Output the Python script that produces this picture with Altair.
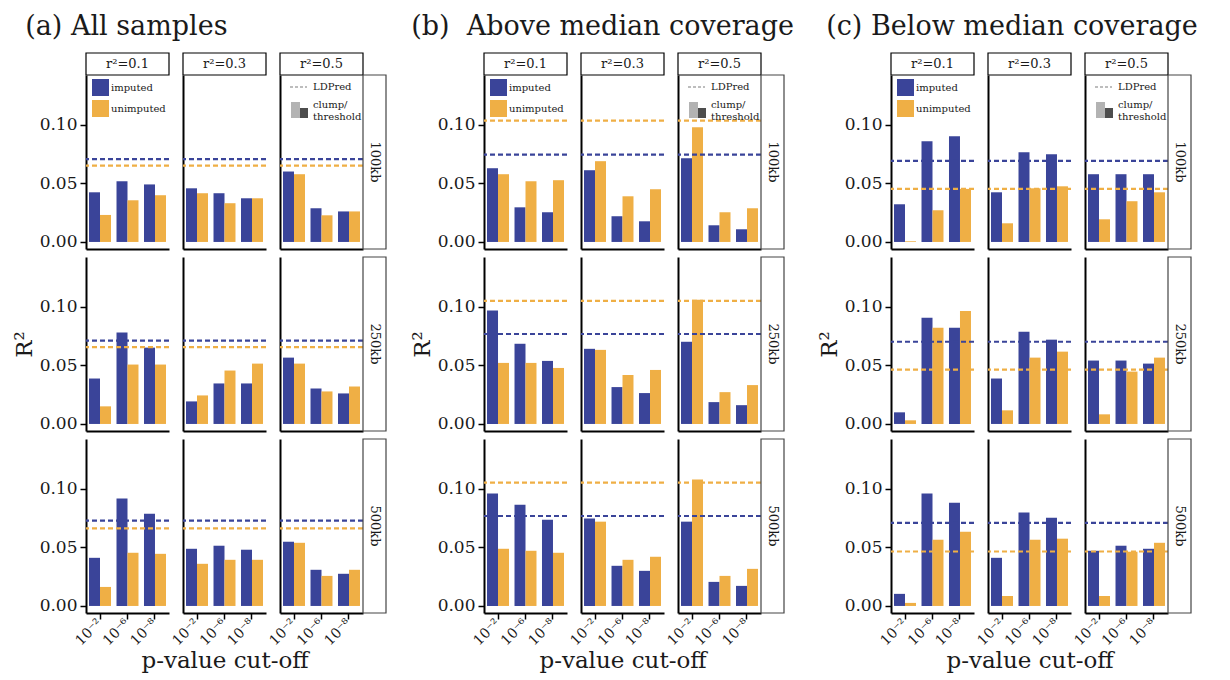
import altair as alt
import pandas as pd

# ---------------- data ----------------
windows = ["100kb", "250kb", "500kb"]
r2_labels = ["r²=0.1", "r²=0.3", "r²=0.5"]
p_labels = ["10⁻²", "10⁻⁶", "10⁻⁸"]
types = ["imputed", "unimputed"]
panel_titles = ["(a) All samples", "(b)\u00a0 Above median coverage", "(c) Below median coverage"]

# each list: r2=0.1 (p 1e-2, 1e-6, 1e-8), r2=0.3 (...), r2=0.5 (...)
a_imp_100 = [0.0423, 0.0517, 0.0490, 0.0457, 0.0415, 0.0372, 0.0600, 0.0287, 0.0260]
a_uni_100 = [0.0230, 0.0355, 0.0398, 0.0415, 0.0330, 0.0372, 0.0577, 0.0227, 0.0260]
a_imp_250 = [0.0387, 0.0780, 0.0650, 0.0192, 0.0345, 0.0345, 0.0565, 0.0302, 0.0260]
a_uni_250 = [0.0150, 0.0506, 0.0506, 0.0243, 0.0455, 0.0514, 0.0514, 0.0277, 0.0319]
a_imp_500 = [0.0410, 0.0915, 0.0786, 0.0487, 0.0513, 0.0479, 0.0547, 0.0308, 0.0274]
a_uni_500 = [0.0162, 0.0453, 0.0444, 0.0359, 0.0393, 0.0393, 0.0538, 0.0256, 0.0308]

b_imp_100 = [0.0628, 0.0295, 0.0253, 0.0611, 0.0219, 0.0176, 0.0713, 0.0142, 0.0108]
b_uni_100 = [0.0577, 0.0517, 0.0526, 0.0688, 0.0389, 0.0449, 0.0977, 0.0253, 0.0287]
b_imp_250 = [0.0966, 0.0683, 0.0537, 0.0640, 0.0314, 0.0263, 0.0700, 0.0186, 0.0160]
b_uni_250 = [0.0520, 0.0520, 0.0477, 0.0631, 0.0417, 0.0460, 0.1057, 0.0271, 0.0331]
b_imp_500 = [0.0957, 0.0863, 0.0735, 0.0744, 0.0342, 0.0299, 0.0718, 0.0205, 0.0171]
b_uni_500 = [0.0487, 0.0470, 0.0453, 0.0718, 0.0393, 0.0419, 0.1077, 0.0256, 0.0316]

c_imp_100 = [0.0321, 0.0858, 0.0900, 0.0423, 0.0764, 0.0747, 0.0577, 0.0577, 0.0577]
c_uni_100 = [0.0006, 0.0270, 0.0452, 0.0159, 0.0457, 0.0474, 0.0193, 0.0347, 0.0423]
c_imp_250 = [0.0099, 0.0904, 0.0819, 0.0387, 0.0785, 0.0718, 0.0540, 0.0540, 0.0514]
c_uni_250 = [0.0031, 0.0819, 0.0963, 0.0116, 0.0565, 0.0616, 0.0082, 0.0446, 0.0565]
c_imp_500 = [0.0103, 0.0957, 0.0880, 0.0410, 0.0795, 0.0752, 0.0470, 0.0513, 0.0487]
c_uni_500 = [0.0026, 0.0564, 0.0632, 0.0085, 0.0564, 0.0573, 0.0085, 0.0462, 0.0538]

# LDPred R2 per window (100kb, 250kb, 500kb)
a_ldpred_imp = [0.0705, 0.0709, 0.0726]
a_ldpred_uni = [0.0650, 0.0655, 0.0660]
b_ldpred_imp = [0.0744, 0.0766, 0.0766]
b_ldpred_uni = [0.1034, 0.1049, 0.1051]
c_ldpred_imp = [0.0690, 0.0700, 0.0707]
c_ldpred_uni = [0.0452, 0.0463, 0.0464]

legend_bar_labels = ["imputed", "unimputed"]
legend_method_labels = ["LDPred", "clump/", "threshold"]

panels = {
    0: ([a_imp_100, a_imp_250, a_imp_500], [a_uni_100, a_uni_250, a_uni_500], a_ldpred_imp, a_ldpred_uni),
    1: ([b_imp_100, b_imp_250, b_imp_500], [b_uni_100, b_uni_250, b_uni_500], b_ldpred_imp, b_ldpred_uni),
    2: ([c_imp_100, c_imp_250, c_imp_500], [c_uni_100, c_uni_250, c_uni_500], c_ldpred_imp, c_ldpred_uni),
}

bar_rows, ld_rows = [], []
for pi, (imps, unis, ldi, ldu) in panels.items():
    for wi, w in enumerate(windows):
        for ci, r2 in enumerate(r2_labels):
            for k, p in enumerate(p_labels):
                bar_rows.append(dict(panel=pi, window=w, r2=r2, p=p, type="imputed", value=imps[wi][ci * 3 + k]))
                bar_rows.append(dict(panel=pi, window=w, r2=r2, p=p, type="unimputed", value=unis[wi][ci * 3 + k]))
        ld_rows.append(dict(panel=pi, window=w, type="imputed", value=ldi[wi]))
        ld_rows.append(dict(panel=pi, window=w, type="unimputed", value=ldu[wi]))
bars_df = pd.DataFrame(bar_rows)
ld_df = pd.DataFrame(ld_rows)

# ---------------- style ----------------
W, H = 83, 174
HEAD_H = 22
STRIP_W = 23
YDOM = [-0.006, 0.1422]
BLUE, ORANGE = "#3a4499", "#efaf45"
FONT = "DejaVu Serif"
INK = "#1a1a1a"

color_scale = alt.Scale(domain=types, range=[BLUE, ORANGE])
y_scale = alt.Scale(domain=YDOM, nice=False, zero=False)


def y_axis(ri, ci):
    if ci == 0:
        return alt.Axis(values=[0, 0.05, 0.1], format=".2f", labelFontSize=17, tickSize=6,
                        tickWidth=1.5, tickColor="black", labelPadding=3, domainColor="black",
                        domainWidth=2, grid=False, title="R²" if ri == 1 else None,
                        titleFontSize=23, titlePadding=3)
    return alt.Axis(labels=False, ticks=False, grid=False, domainColor="black", domainWidth=2, title=None)


def x_axis(ri, ci):
    if ri < 2:
        return alt.Axis(labels=False, ticks=False, grid=False, domainColor="black", domainWidth=2, title=None)
    return alt.Axis(labelAngle=-45, labelAlign="right", labelBaseline="middle", labelFontSize=14,
                    labelPadding=2, tickSize=6, tickWidth=1.5, tickColor="black", domainColor="black",
                    domainWidth=2, grid=False, title="p-value cut-off" if ci == 1 else None,
                    titleFontSize=23, titlePadding=2)


def cell(pi, ri, ci):
    d = bars_df[(bars_df.panel == pi) & (bars_df.window == windows[ri]) & (bars_df.r2 == r2_labels[ci])]
    ld = ld_df[(ld_df.panel == pi) & (ld_df.window == windows[ri])]
    ya = y_axis(ri, ci)
    bars = alt.Chart(d).mark_bar().encode(
        x=alt.X("p:N", sort=p_labels, scale=alt.Scale(paddingInner=0.2, paddingOuter=0.11), axis=x_axis(ri, ci)),
        xOffset=alt.XOffset("type:N", sort=types),
        y=alt.Y("value:Q", scale=y_scale, axis=ya),
        y2=alt.datum(0),
        color=alt.Color("type:N", scale=color_scale, legend=None),
    )
    rules = alt.Chart(ld).mark_rule(strokeDash=[5, 3], strokeWidth=2.2).encode(
        y=alt.Y("value:Q", scale=y_scale, axis=ya),
        color=alt.Color("type:N", scale=color_scale, legend=None),
    )
    layers = [bars, rules]
    if ri == 0:
        hd = pd.DataFrame({"label": [r2_labels[ci]]})
        layers.append(alt.Chart(hd).mark_rect(fill="white", stroke="black", strokeWidth=1.2).encode(
            x=alt.value(0), x2=alt.value(W), y=alt.value(-HEAD_H), y2=alt.value(0)))
        layers.append(alt.Chart(hd).mark_text(font=FONT, fontSize=13, color=INK, baseline="middle").encode(
            x=alt.value(W / 2), y=alt.value(-HEAD_H / 2), text="label:N"))
        if ci == 0:
            for k, (lab, col) in enumerate(zip(legend_bar_labels, [BLUE, ORANGE])):
                ld_lab = pd.DataFrame({"label": [lab]})
                y0 = 4 + 21 * k
                layers.append(alt.Chart(ld_lab).mark_rect(fill=col).encode(
                    x=alt.value(6), x2=alt.value(23), y=alt.value(y0), y2=alt.value(y0 + 17)))
                layers.append(alt.Chart(ld_lab).mark_text(font=FONT, fontSize=10, color=INK, align="left",
                                                          baseline="middle").encode(
                    x=alt.value(25), y=alt.value(y0 + 8.5), text="label:N"))
        if ci == 2:
            lm = pd.DataFrame({"label": legend_method_labels})
            layers.append(alt.Chart(lm.iloc[[0]]).mark_rule(stroke="#bdbdbd", strokeWidth=2.2, strokeDash=[3, 2]).encode(
                x=alt.value(10), x2=alt.value(27), y=alt.value(12)))
            layers.append(alt.Chart(lm.iloc[[0]]).mark_rect(fill="#b3b3b3").encode(
                x=alt.value(11), x2=alt.value(20), y=alt.value(27), y2=alt.value(43)))
            layers.append(alt.Chart(lm.iloc[[0]]).mark_rect(fill="#4d4d4d").encode(
                x=alt.value(20), x2=alt.value(28), y=alt.value(33), y2=alt.value(43)))
            for k, yy in enumerate([12, 30, 42]):
                layers.append(alt.Chart(lm.iloc[[k]]).mark_text(font=FONT, fontSize=10, color=INK, align="left",
                                                                baseline="middle").encode(
                    x=alt.value(33), y=alt.value(yy), text="label:N"))
    if ci == 2:
        sd = pd.DataFrame({"label": [windows[ri]]})
        layers.append(alt.Chart(sd).mark_rect(fill="white", stroke="#444444", strokeWidth=1.2).encode(
            x=alt.value(W), x2=alt.value(W + STRIP_W), y=alt.value(0), y2=alt.value(H)))
        layers.append(alt.Chart(sd).mark_text(font=FONT, fontSize=13, color=INK, angle=90,
                                              baseline="middle").encode(
            x=alt.value(W + STRIP_W / 2), y=alt.value(H / 2), text="label:N"))
    return alt.layer(*layers).properties(width=W, height=H)


title_dx = [12, 0, 8]


def panel(pi):
    cells = [cell(pi, ri, ci) for ri in range(3) for ci in range(3)]
    return alt.concat(*cells, columns=3, spacing={"row": 8, "column": 14}, bounds="flush", align="each",
                      title=alt.Title(panel_titles[pi], anchor="start", dx=title_dx[pi], offset=11,
                                      font=FONT, fontSize=27, fontWeight="normal", color=INK))


chart = alt.hconcat(panel(0), panel(1), panel(2), spacing=24).configure_view(stroke=None).configure_axis(
    labelFont=FONT, titleFont=FONT, labelColor=INK, titleColor=INK, titleFontWeight="normal"
)

chart.save("out.html", embed_options={"renderer": "svg", "actions": False})
